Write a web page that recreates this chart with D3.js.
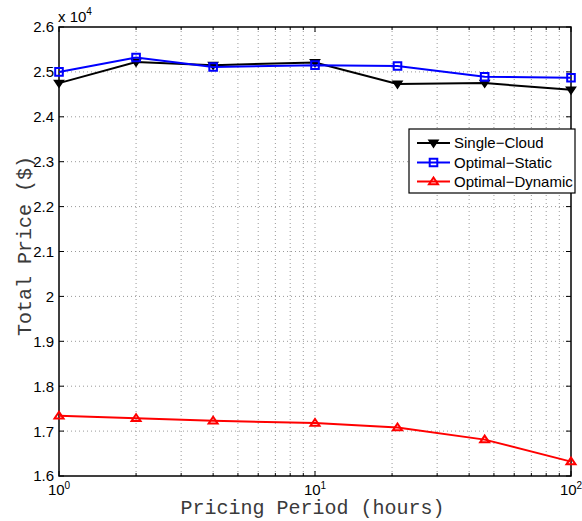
<!DOCTYPE html>
<html><head><meta charset="utf-8">
<script src="https://cdn.jsdelivr.net/npm/d3@7"></script>
<style>body{margin:0;background:#fff}svg{display:block}</style>
</head><body><svg id="c" width="582" height="521"></svg>
<script>
const periods = [1, 2, 4, 10, 21, 46, 100];
const singleCloud = [2.475, 2.522, 2.515, 2.521, 2.473, 2.475, 2.460];
const optimalStatic = [2.500, 2.532, 2.511, 2.515, 2.513, 2.489, 2.487];
const optimalDynamic = [1.734, 1.7285, 1.723, 1.718, 1.708, 1.681, 1.632];
const seriesNames = ["Single\u2212Cloud", "Optimal\u2212Static", "Optimal\u2212Dynamic"];
const seriesColors = ["#000000", "#0000ff", "#ff0000"];
const yTicks = [1.6,1.7,1.8,1.9,2.0,2.1,2.2,2.3,2.4,2.5,2.6];
const xMajor = [1, 10, 100];

const svg = d3.select("#c");
const L=59, R=571, T=27, B=476;
const x = d3.scaleLog().domain([1,100]).range([L,R]);
const y = d3.scaleLinear().domain([1.6,2.6]).range([B,T]);
const tickFont = "Liberation Sans, Arial, sans-serif";

const xMinor = [];
for (let d=1; d<100; d*=10) for (let k=2;k<=9;k++) xMinor.push(d*k);

// grid
const g = svg.append("g");
g.selectAll(".vg").data(xMinor.concat([10])).enter().append("line")
  .attr("x1",d=>x(d)).attr("x2",d=>x(d)).attr("y1",T).attr("y2",B)
  .attr("stroke","#999").attr("stroke-width",1).attr("stroke-dasharray","1,3");
g.selectAll(".hg").data(yTicks.slice(1,-1)).enter().append("line")
  .attr("x1",L).attr("x2",R).attr("y1",d=>y(d)).attr("y2",d=>y(d))
  .attr("stroke","#999").attr("stroke-width",1).attr("stroke-dasharray","1,3");

// ticks inside on all sides
const tk = svg.append("g").attr("stroke","#000").attr("stroke-width",1);
yTicks.forEach(v=>{
  tk.append("line").attr("x1",L).attr("x2",L+5).attr("y1",y(v)).attr("y2",y(v));
  tk.append("line").attr("x1",R).attr("x2",R-5).attr("y1",y(v)).attr("y2",y(v));
});
xMajor.forEach(v=>{
  tk.append("line").attr("x1",x(v)).attr("x2",x(v)).attr("y1",B).attr("y2",B-5);
  tk.append("line").attr("x1",x(v)).attr("x2",x(v)).attr("y1",T).attr("y2",T+5);
});
xMinor.forEach(v=>{
  tk.append("line").attr("x1",x(v)).attr("x2",x(v)).attr("y1",B).attr("y2",B-3);
  tk.append("line").attr("x1",x(v)).attr("x2",x(v)).attr("y1",T).attr("y2",T+3);
});

// box
svg.append("rect").attr("x",L).attr("y",T).attr("width",R-L).attr("height",B-T)
  .attr("fill","none").attr("stroke","#000").attr("stroke-width",1.5);

// y tick labels
svg.append("g").selectAll("text").data(yTicks).enter().append("text")
  .attr("x",L-5).attr("y",d=>y(d)).attr("dy","0.36em").attr("text-anchor","end")
  .attr("font-family",tickFont).attr("font-size",15).attr("fill","#000")
  .text(d=>d3.format("~g")(d));

// x tick labels 10^n
const xl = svg.append("g");
xMajor.forEach(v=>{
  const t = xl.append("text").attr("x",x(v)).attr("y",495).attr("text-anchor","middle")
    .attr("font-family",tickFont).attr("font-size",15).attr("fill","#000");
  t.append("tspan").text("10");
  t.append("tspan").attr("dy",-6).attr("font-size",10).text(Math.round(Math.log10(v)));
});

// exponent label
const ex = svg.append("text").attr("x",58).attr("y",22).attr("font-family",tickFont)
  .attr("font-size",15).attr("fill","#000");
ex.append("tspan").text("x 10");
ex.append("tspan").attr("dy",-7).attr("font-size",10).text("4");

// axis labels
svg.append("text").attr("x",312.5).attr("y",514).attr("text-anchor","middle")
  .attr("font-family","Liberation Mono, Courier New, monospace").attr("font-size",20)
  .attr("fill","#3a3a3a").text("Pricing Period (hours)");
svg.append("text").attr("transform","translate(31,246) rotate(-90)").attr("text-anchor","middle")
  .attr("font-family","Liberation Mono, Courier New, monospace").attr("font-size",20)
  .attr("fill","#3a3a3a").text("Total Price ($)");

// series
const data = [singleCloud, optimalStatic, optimalDynamic];
const line = d3.line().x((d,i)=>x(periods[i])).y(d=>y(d));
const triDown = s=>`M${-s},${-s*0.6}L${s},${-s*0.6}L0,${s*0.9}Z`;
const triUp = s=>`M${-s},${s*0.6}L${s},${s*0.6}L0,${-s*0.9}Z`;
const sq = s=>`M${-s},${-s}L${s},${-s}L${s},${s}L${-s},${s}Z`;
function marker(sel, k){
  if(k===0) sel.attr("d",triDown(4.5)).attr("fill","#000").attr("stroke","#000").attr("stroke-width",1.5);
  else if(k===1) sel.attr("d",sq(3.8)).attr("fill","none").attr("stroke","#0000ff").attr("stroke-width",2);
  else sel.attr("d",triUp(4.5)).attr("fill","none").attr("stroke","#ff0000").attr("stroke-width",2);
}
data.forEach((vals,k)=>{
  svg.append("path").datum(vals).attr("d",line).attr("fill","none")
    .attr("stroke",seriesColors[k]).attr("stroke-width",2);
  svg.append("g").selectAll("path").data(vals).enter().append("path")
    .attr("transform",(d,i)=>`translate(${x(periods[i])},${y(d)})`)
    .call(s=>marker(s,k));
});

// legend
const lg = svg.append("g");
lg.append("rect").attr("x",409).attr("y",129).attr("width",166).attr("height",64)
  .attr("fill","#fff").attr("stroke","#000").attr("stroke-width",1.2);
const rowsY = [143, 162.5, 181.5];
seriesNames.forEach((n,k)=>{
  lg.append("line").attr("x1",417).attr("x2",450).attr("y1",rowsY[k]).attr("y2",rowsY[k])
    .attr("stroke",seriesColors[k]).attr("stroke-width",2);
  lg.append("path").attr("transform",`translate(433.5,${rowsY[k]})`).call(s=>marker(s,k));
  lg.append("text").attr("x",454).attr("y",rowsY[k]).attr("dy","0.36em")
    .attr("font-family",tickFont).attr("font-size",15).attr("fill","#000").text(n);
});
</script></body></html>
